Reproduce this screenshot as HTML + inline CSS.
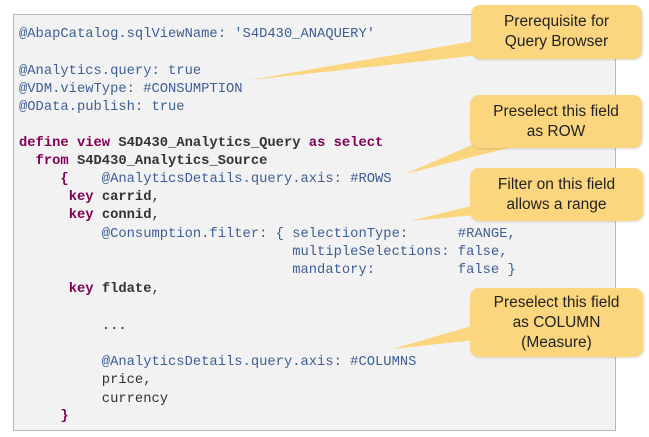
<!DOCTYPE html>
<html><head><meta charset="utf-8"><style>
body{margin:0;width:649px;height:437px;background:#fff;position:relative;overflow:hidden}
.box{position:absolute;left:13px;top:14px;width:603px;height:417px;background:#f2f2f2;border:1px solid #b8b8b8;box-sizing:border-box}
.l{position:absolute;left:19px;font-family:"Liberation Mono",monospace;font-size:13.8px;white-space:pre;color:#3d5f93;line-height:16px;margin-top:2px}
.k{color:#7f0055;font-weight:bold}
.b{color:#333;font-weight:bold}
.n{color:#333}
.c{position:absolute;background:#fbd67e;border-radius:9px;font-family:"Liberation Sans",sans-serif;font-size:15.5px;color:#222;text-align:center;line-height:20px;display:flex;align-items:center;justify-content:center;box-shadow:1px 1px 2px rgba(0,0,0,.15)}
svg{position:absolute;left:0;top:0}
</style></head><body>
<div class="box"></div>
<div class="l" style="top:25px">@AbapCatalog.sqlViewName: 'S4D430_ANAQUERY'</div>
<div class="l" style="top:62px">@Analytics.query: true</div>
<div class="l" style="top:80px">@VDM.viewType: #CONSUMPTION</div>
<div class="l" style="top:98px">@OData.publish: true</div>
<div class="l" style="top:134px"><span class="k">define view</span> <span class="b">S4D430_Analytics_Query</span> <span class="k">as select</span></div>
<div class="l" style="top:152px">  <span class="k">from</span> <span class="b">S4D430_Analytics_Source</span></div>
<div class="l" style="top:170px">     <span class="k">{</span>    @AnalyticsDetails.query.axis: #ROWS</div>
<div class="l" style="top:188px">      <span class="k">key</span> <span class="b">carrid</span><span class="n">,</span></div>
<div class="l" style="top:206px">      <span class="k">key</span> <span class="b">connid</span><span class="n">,</span></div>
<div class="l" style="top:225px">          @Consumption.filter: { selectionType:      #RANGE,</div>
<div class="l" style="top:243px">                                 multipleSelections: false,</div>
<div class="l" style="top:261px">                                 mandatory:          false }</div>
<div class="l" style="top:280px">      <span class="k">key</span> <span class="b">fldate</span><span class="n">,</span></div>
<div class="l" style="top:317px"><span class="n">          ...</span></div>
<div class="l" style="top:353px">          @AnalyticsDetails.query.axis: #COLUMNS</div>
<div class="l" style="top:371px"><span class="n">          price,</span></div>
<div class="l" style="top:390px"><span class="n">          currency</span></div>
<div class="l" style="top:407px">     <span class="k">}</span></div>
<svg width="649" height="437">
<g fill="#fbd67e">
<polygon points="250,80 480,40 480,55"/>
<polygon points="405,174 495,135 540,140"/>
<polygon points="410,221 475,205 475,215"/>
<polygon points="392,349 475,325 475,340"/>
</g></svg>
<div class="c" style="left:471px;top:5px;width:171px;height:54px">Prerequisite for<br>Query Browser</div>
<div class="c" style="left:470px;top:95px;width:172px;height:53px">Preselect this field<br>as ROW</div>
<div class="c" style="left:470px;top:168px;width:173px;height:53px">Filter on this field<br>allows a range</div>
<div class="c" style="left:470px;top:288px;width:173px;height:69px">Preselect this field<br>as COLUMN<br>(Measure)</div>
</body></html>
